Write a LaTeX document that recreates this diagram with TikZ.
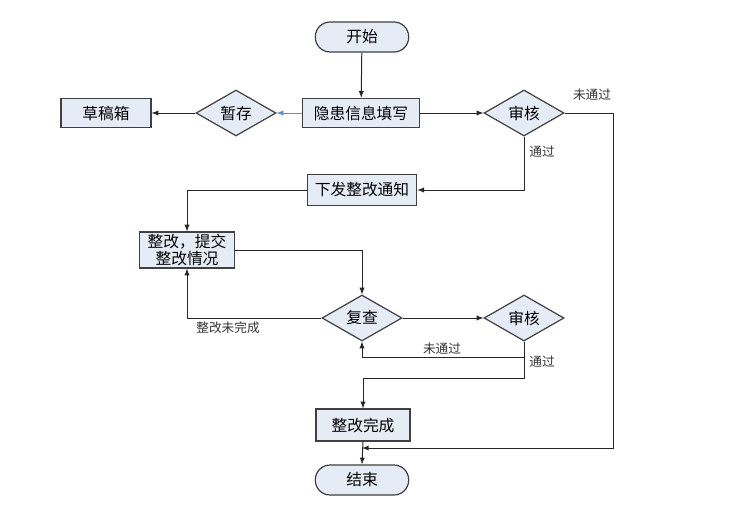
\documentclass[tikz,border=0pt]{standalone}
\usepackage{fontspec}
\setmainfont{Noto Sans CJK SC}
\usetikzlibrary{shapes.geometric}
\definecolor{boxfill}{HTML}{E6ECF6}
\definecolor{boxline}{HTML}{404040}
\definecolor{saveblue}{HTML}{5B8BD0}
\begin{document}
\begin{tikzpicture}[x=0.75pt,y=-0.75pt,
    box/.style={draw=boxline,fill=boxfill,line width=0.9pt,font=\fontsize{11.8}{13}\selectfont,inner sep=1pt},
    term/.style={box,rounded corners=11pt,minimum width=70pt,minimum height=22.5pt},
    proc/.style={box,minimum height=22pt},
    choice/.style={box,diamond,minimum width=60pt,minimum height=34pt,inner sep=0pt},
    flow/.style={-latex,line width=0.75pt,black!85},
    lbl/.style={font=\fontsize{9.5}{11}\selectfont,text=black!80,inner sep=1pt}]
  \useasboundingbox (0,0) rectangle (738,504);
  \node[term] (start) at (362,37) {开始};
  \node[proc,minimum width=88pt] (fill) at (361,113) {隐患信息填写};
  \node[choice] (save) at (236,113) {暂存};
  \node[proc,minimum width=67.5pt] (draft) at (106,113) {草稿箱};
  \node[choice] (check1) at (524,113) {审核};
  \node[proc,minimum width=82pt,minimum height=23pt] (notice) at (362,190) {下发整改通知};
  \node[proc,minimum width=71pt,minimum height=27pt,align=center,font=\fontsize{11.8}{12.5}\selectfont] (fix) at (187,250) {整改，提交\\整改情况};
  \node[choice] (recheck) at (362,318) {复查};
  \node[choice] (check2) at (524,318) {审核};
  \node[proc,minimum width=70.5pt,minimum height=24pt] (done) at (363,425) {整改完成};
  \node[term] (finish) at (362,480) {结束};
  \coordinate (right) at (613,448);
  \coordinate (join) at (362,448);
  % main line
  \draw[flow] (start) -- (fill);
  \draw[flow,saveblue] (fill) -- (save);
  \draw[flow] (save) -- (draft);
  \draw[flow] (fill) -- (check1);
  \draw[flow] (check1.east) -| (right) -- (join);
  \draw[flow] (check1.south) |- (notice.east);
  \draw[flow] (notice.west) -| (fix.north);
  \draw[flow] (fix.east) -| (recheck.north);
  \draw[flow] (recheck.west) -| (fix.south);
  \draw[flow] (recheck.east) -- (check2.west);
  \draw[flow] (check2.south) -- ++(0,16) -| (recheck.south);
  \draw[flow] (check2.south) -- ++(0,37) -| (done.north);
  \draw[flow] (done.south) -- (finish.north);
  \node[lbl] at (592,95) {未通过};
  \node[lbl] at (542,152) {通过};
  \node[lbl] at (228,328) {整改未完成};
  \node[lbl] at (442,349) {未通过};
  \node[lbl] at (542,362) {通过};
\end{tikzpicture}
\end{document}
